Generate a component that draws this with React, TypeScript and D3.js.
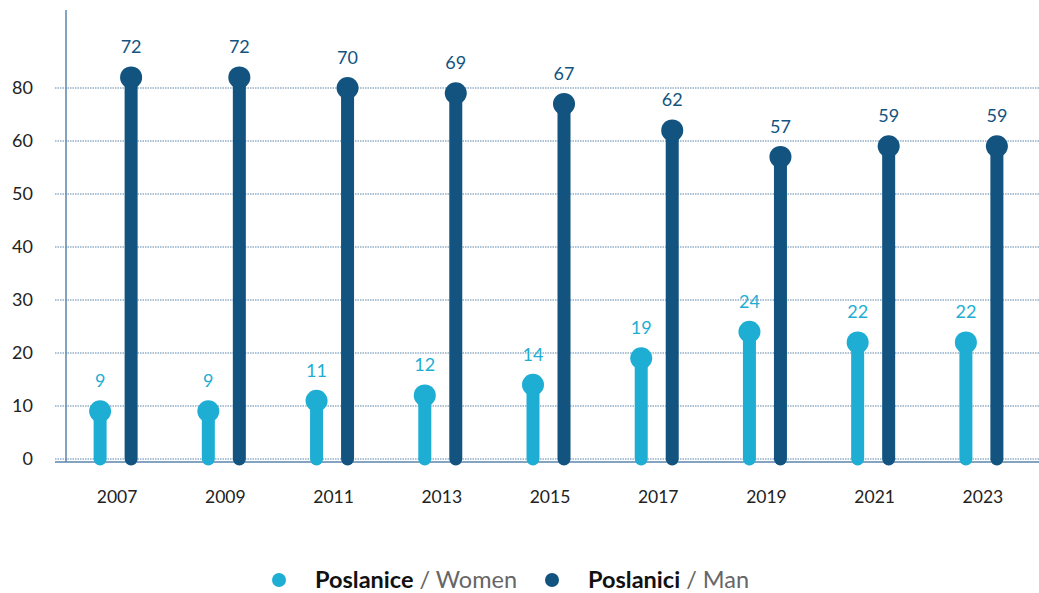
import React from "react";
import * as d3 from "d3";

const years = ["2007", "2009", "2011", "2013", "2015", "2017", "2019", "2021", "2023"];
const women = [9, 9, 11, 12, 14, 19, 24, 22, 22];
const men = [72, 72, 70, 69, 67, 62, 57, 59, 59];
const gridValues = [0, 10, 20, 30, 40, 50, 60, 70];
const tickLabels = ["0", "10", "20", "30", "40", "50", "60", "80"];

const W = 1039;
const H = 593;
const WOMEN_C = "#1eaed3";
const MEN_C = "#12537f";
const AXIS_C = "#5a85ab";
const FONT = "Lato, 'Open Sans', sans-serif";

export default function App() {
  const x = d3.scaleBand<string>().domain(years).range([63, 1037]).paddingInner(0).paddingOuter(0);
  const y = d3.scaleLinear().domain([0, 70]).range([459, 88]);
  const cx = (yr: string) => (x(yr) as number) + x.bandwidth() / 2;

  return (
    <svg width={W} height={H} style={{ position: "absolute", left: 0, top: 0, fontFamily: FONT }}>
      <rect width={W} height={H} fill="#fff" />
      {/* dotted grid with tick labels */}
      {gridValues.map((t, i) => (
        <g key={t}>
          <line x1={55} x2={W} y1={y(t)} y2={y(t)} stroke={AXIS_C} strokeWidth={1} strokeDasharray="1.5 1" />
          <text x={33} y={y(t) + 6} textAnchor="end" fontSize={18} fill="#222">
            {tickLabels[i]}
          </text>
        </g>
      ))}
      {/* axes */}
      <line x1={66} x2={66} y1={10} y2={462} stroke={AXIS_C} strokeWidth={1.5} />
      <line x1={55} x2={W} y1={462} y2={462} stroke={AXIS_C} strokeWidth={1.5} />

      {years.map((yr, i) => {
        const xc = cx(yr);
        const xw = xc - 17;
        const xm = xc + 14;
        return (
          <g key={yr}>
            <line x1={xw} x2={xw} y1={y(0)} y2={y(women[i])} stroke={WOMEN_C} strokeWidth={13} strokeLinecap="round" />
            <circle cx={xw} cy={y(women[i])} r={11} fill={WOMEN_C} />
            <text x={xw} y={y(women[i]) - 24} textAnchor="middle" fontSize={18} fill={WOMEN_C}>
              {women[i]}
            </text>
            <line x1={xm} x2={xm} y1={y(0)} y2={y(men[i])} stroke={MEN_C} strokeWidth={13} strokeLinecap="round" />
            <circle cx={xm} cy={y(men[i])} r={11} fill={MEN_C} />
            <text x={xm} y={y(men[i]) - 24} textAnchor="middle" fontSize={18} fill={MEN_C}>
              {men[i]}
            </text>
            <text x={xc} y={503} textAnchor="middle" fontSize={17.5} fill="#222">
              {yr}
            </text>
          </g>
        );
      })}

      {/* legend */}
      <circle cx={279} cy={580} r={7} fill={WOMEN_C} />
      <text x={315} y={588} fontSize={23.5}>
        <tspan fontWeight="bold" fill="#111">Poslanice</tspan>
        <tspan fill="#666"> / Women</tspan>
      </text>
      <circle cx={552} cy={580} r={7} fill={MEN_C} />
      <text x={588} y={588} fontSize={23.5}>
        <tspan fontWeight="bold" fill="#111">Poslanici</tspan>
        <tspan fill="#666"> / Man</tspan>
      </text>
    </svg>
  );
}
